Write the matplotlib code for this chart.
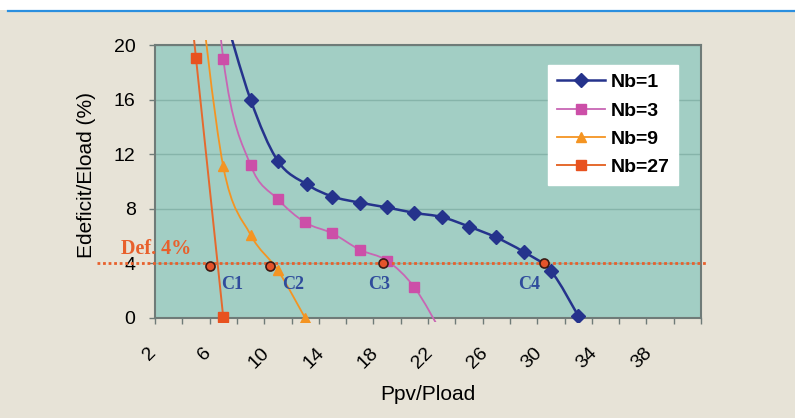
import numpy as np
import matplotlib
matplotlib.use("Agg")
import matplotlib.pyplot as plt
from matplotlib.path import Path
from matplotlib.patches import PathPatch, Rectangle
from matplotlib.lines import Line2D
from matplotlib.transforms import Bbox, TransformedBbox, ScaledTranslation
from matplotlib.ticker import MultipleLocator

# ---------------- data ----------------
x_nb1 = [7, 9, 11, 13.1, 15, 17, 19, 21, 23, 25, 27, 29, 31, 33]
y_nb1 = [22.6, 16.0, 11.5, 9.8, 8.9, 8.45, 8.1, 7.7, 7.4, 6.7, 5.9, 4.85, 3.45, 0.17]

x_nb3 = [5, 7, 9, 11, 13, 15, 17, 19, 21, 23]
y_nb3 = [42, 19.0, 11.2, 8.7, 7.0, 6.2, 5.0, 4.2, 2.25, -1.1]

x_nb9 = [5, 7, 9, 11, 13]
y_nb9 = [26.5, 11.1, 6.1, 3.5, 0.0]

x_nb27 = [3, 5, 7]
y_nb27 = [38, 19.07, 0.05]

series_labels = ["Nb=1", "Nb=3", "Nb=9", "Nb=27"]

cross_x = [6.0, 10.4, 18.7, 30.5]
cross_y = [3.8, 3.8, 4.0, 4.0]
curve_names = ["C1", "C2", "C3", "C4"]
curve_name_x = [7.64, 12.13, 18.41, 29.38]
curve_name_y = [2.45, 2.45, 2.45, 2.42]

deficit_level = 4
deficit_label = "Def. 4%"

x_tick_labels = [2, 6, 10, 14, 18, 22, 26, 30, 34, 38]
y_tick_labels = [0, 4, 8, 12, 16, 20]
x_min, x_max = 2, 42
y_min, y_max = 0, 20

# ---------------- style ----------------
BG = "#E7E3D7"
PLOT_BG = "#A2CEC4"
GRID = "#86B4AA"
FRAME = "#6F7B78"
C_NB1 = "#25338C"
C_NB3 = "#CC4FA8"
C_NB3_LINE = "#C866B4"
C_NB9 = "#F49422"
C_NB27 = "#E8521F"
C_NB27_LINE = "#E5692E"
C_DEF = "#E8602C"
C_CNAME = "#2F4C9C"

fig = plt.figure(figsize=(7.95, 4.18), dpi=100)
fig.patch.set_facecolor(BG)

# top white strip and blue rule
fig.patches.append(Rectangle((0, 1 - 10 / 418), 1, 10 / 418, transform=fig.transFigure,
                             facecolor="white", edgecolor="none", zorder=0))
fig.add_artist(Line2D([8 / 795, 1], [1 - 11 / 418, 1 - 11 / 418], transform=fig.transFigure,
                      color="#2B8FDF", lw=1.6))

ax = fig.add_axes([155 / 795, 100 / 418, 546 / 795, 273 / 418])
ax.set_facecolor(PLOT_BG)
ax.set_xlim(x_min, x_max)
ax.set_ylim(y_min, y_max)

for s in ax.spines.values():
    s.set_color(FRAME)
    s.set_linewidth(1.5)

ax.set_yticks(y_tick_labels)
ax.set_yticklabels([str(v) for v in y_tick_labels], fontsize=14, family="Liberation Sans")
ax.set_xticks(x_tick_labels)
ax.set_xticklabels([str(v) for v in x_tick_labels], fontsize=14, family="Liberation Sans",
                   rotation=45, ha="center", va="top")
ax.xaxis.set_minor_locator(MultipleLocator(2))
ax.tick_params(axis="both", which="both", length=4, width=1, color=FRAME, direction="out")
ax.tick_params(axis="x", which="major", pad=15)
ax.tick_params(axis="y", which="major", pad=10)
shift = ScaledTranslation(-5 / 100, 0, fig.dpi_scale_trans)
for lbl in ax.get_xticklabels():
    lbl.set_transform(lbl.get_transform() + shift)
ax.grid(axis="y", color=GRID, lw=1.0)
ax.set_axisbelow(True)

ax.set_ylabel("Edeficit/Eload (%)", fontsize=15, family="Liberation Sans")
ax.yaxis.set_label_coords(-0.108, 0.524)
ax.set_xlabel("Ppv/Pload", fontsize=15, family="Liberation Sans")
ax.xaxis.set_label_coords(0.5, -0.247)

clip = TransformedBbox(Bbox([[0, -0.015], [1, 1.018]]), ax.transAxes)


def smooth_path(xs, ys):
    pts = np.column_stack([xs, ys]).astype(float)
    n = len(pts)
    verts = [pts[0]]
    codes = [Path.MOVETO]
    for i in range(n - 1):
        p0 = pts[i - 1] if i > 0 else pts[i]
        p1 = pts[i]
        p2 = pts[i + 1]
        p3 = pts[i + 2] if i + 2 < n else pts[i + 1]
        c1 = p1 + (p2 - p0) / 6.0
        c2 = p2 - (p3 - p1) / 6.0
        verts += [c1, c2, p2]
        codes += [Path.CURVE4] * 3
    return Path(verts, codes)


series = [
    (x_nb1, y_nb1, C_NB1, C_NB1, "D", 7, 1.8),
    (x_nb3, y_nb3, C_NB3_LINE, C_NB3, "s", 6.5, 1.3),
    (x_nb9, y_nb9, C_NB9, C_NB9, "^", 7.5, 1.3),
    (x_nb27, y_nb27, C_NB27_LINE, C_NB27, "s", 6.5, 1.4),
]

handles = []
for (xs, ys, lc, mc, mk, ms, lw), lab in zip(series, series_labels):
    patch = PathPatch(smooth_path(xs, ys), facecolor="none", edgecolor=lc, lw=lw, zorder=3)
    ax.add_patch(patch)
    patch.set_clip_box(clip)
    mline, = ax.plot(xs, ys, linestyle="none", marker=mk, ms=ms, color=mc,
                     markeredgecolor=mc, zorder=4)
    mline.set_clip_box(clip)
    handles.append(Line2D([], [], color=lc, lw=lw, marker=mk, ms=ms, markerfacecolor=mc,
                          markeredgecolor=mc, label=lab))

# deficit reference line
ax.axhline(deficit_level, xmin=-0.106, xmax=1.013, color=C_DEF, lw=2.0,
           linestyle=(0, (1, 1)), clip_on=False, zorder=5)
ax.text(-0.5, deficit_level + 0.66, deficit_label, fontsize=14.5, fontweight="bold",
        family="Liberation Serif", color=C_DEF, ha="left", va="baseline", clip_on=False, zorder=6)

# crossing points
ax.plot(cross_x, cross_y, linestyle="none", marker="o", ms=6.5, markerfacecolor="#E4542B",
        markeredgecolor="#3B1A14", markeredgewidth=1.2, zorder=7)

for nm, cx, cy in zip(curve_names, curve_name_x, curve_name_y):
    ax.text(cx, cy, nm, fontsize=13, fontweight="bold", family="Liberation Serif",
            color=C_CNAME, ha="center", va="center", zorder=6)

leg = ax.legend(handles=handles, loc="upper left", bbox_to_anchor=(0.72, 0.927),
                frameon=True, fancybox=False, framealpha=1, facecolor="white",
                edgecolor="white", borderpad=0.45, borderaxespad=0, labelspacing=0.55,
                handlelength=2.5, handletextpad=0.25, numpoints=1,
                prop={"family": "Liberation Sans", "weight": "bold", "size": 14})

fig.savefig("out.png", dpi=100, facecolor=fig.get_facecolor())
